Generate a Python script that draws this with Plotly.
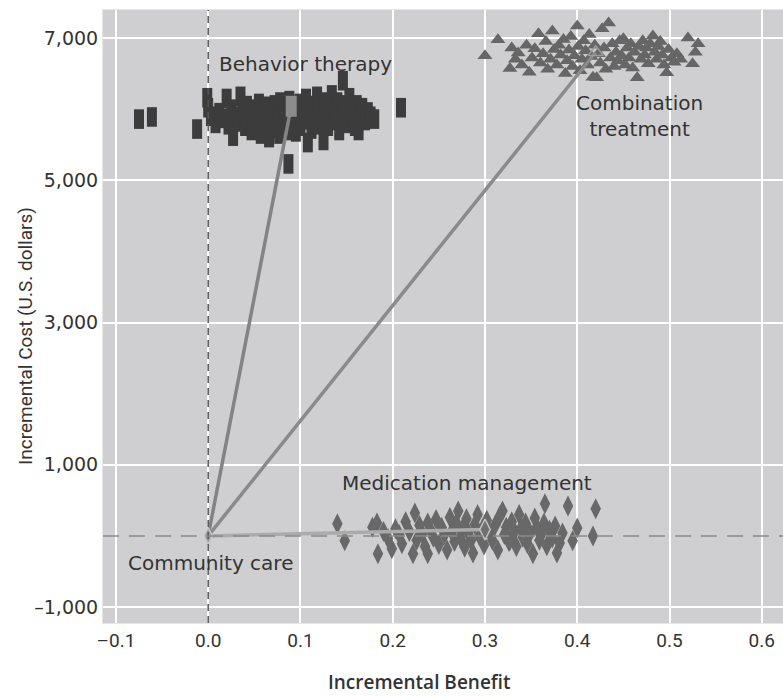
import plotly.graph_objects as go

# Behavior therapy: simulated (benefit, cost) pairs
behav_x = [-0.075, -0.061, -0.012, -0.001, 0.000, 0.003, 0.008, 0.012, 0.015, 0.020, 0.022, 0.025, 0.027,
           0.030, 0.032, 0.035, 0.037, 0.040, 0.042, 0.045, 0.047, 0.050, 0.052, 0.055, 0.057, 0.058, 0.060,
           0.062, 0.064, 0.066, 0.068, 0.070, 0.072, 0.073, 0.075, 0.077, 0.078, 0.080, 0.082, 0.083, 0.085,
           0.087, 0.088, 0.090, 0.092, 0.094, 0.095, 0.097, 0.099, 0.100, 0.102, 0.104, 0.106, 0.108, 0.110,
           0.112, 0.114, 0.116, 0.118, 0.120, 0.122, 0.125, 0.126, 0.128, 0.130, 0.132, 0.134, 0.136, 0.138,
           0.140, 0.142, 0.144, 0.146, 0.147, 0.149, 0.151, 0.153, 0.155, 0.157, 0.159, 0.161, 0.163, 0.165,
           0.167, 0.170, 0.173, 0.176, 0.180, 0.209]
behav_y = [5860, 5890, 5720, 6160, 6020, 5900, 5800, 5950, 5870, 6150, 5780, 6000, 5620,
           5900, 5820, 6180, 5960, 5760, 6050, 5880, 5700, 6000, 5820, 6080, 5650, 5930, 5780,
           6040, 5870, 5600, 5980, 5720, 6060, 5840, 5930, 5650, 6100, 5780, 5990, 5880, 5700,
           5230, 6120, 5950, 5810, 6050, 5680, 5900, 6080, 5760, 5980, 5850, 6150, 5530, 5930,
           5720, 6050, 5860, 6180, 5780, 5980, 5560, 6100, 5900, 5760, 6020, 6200, 5840, 5960,
           6100, 5700, 5900, 6400, 6060, 5800, 6000, 6160, 5880, 5950, 5760, 6060, 5700, 5900,
           6020, 5840, 5960, 5900, 5860, 6020]

# Combination treatment
combo_x = [0.300, 0.314, 0.327, 0.329, 0.333, 0.336, 0.340, 0.345, 0.348, 0.351, 0.354, 0.358, 0.360,
           0.363, 0.366, 0.368, 0.371, 0.373, 0.375, 0.378, 0.380, 0.382, 0.385, 0.387, 0.389, 0.391,
           0.393, 0.395, 0.397, 0.400, 0.401, 0.403, 0.405, 0.407, 0.409, 0.411, 0.413, 0.415, 0.417,
           0.419, 0.421, 0.423, 0.425, 0.427, 0.429, 0.431, 0.434, 0.436, 0.438, 0.440, 0.442, 0.444,
           0.446, 0.448, 0.450, 0.452, 0.454, 0.456, 0.458, 0.460, 0.462, 0.465, 0.467, 0.469, 0.471,
           0.473, 0.475, 0.477, 0.479, 0.482, 0.484, 0.486, 0.488, 0.490, 0.492, 0.494, 0.497, 0.499,
           0.502, 0.505, 0.508, 0.512, 0.520, 0.525, 0.528, 0.531]
combo_y = [6750, 6975, 6570, 6860, 6700, 6790, 6620, 6900, 6520, 6720, 6850, 7060, 6650,
           6780, 6950, 6560, 6700, 7100, 6840, 6620, 6900, 6760, 6980, 6500, 6680, 6830,
           7020, 6600, 6750, 7170, 6880, 6540, 6700, 6960, 6820, 6620, 7050, 6740, 6450,
           6900, 6440, 6780, 6650, 7130, 6860, 6560, 7210, 6720, 6920, 6600, 6800, 6680,
           6960, 6750, 6990, 6620, 6860, 6720, 6920, 6580, 6800, 6440, 6880, 6700, 6960,
           6760, 6860, 6640, 6920, 7030, 6800, 6700, 6880, 6950, 6760, 6620, 6510, 6840,
           6720, 6660, 6780, 6700, 7000, 6640, 6800, 6920]

# Medication management
med_x = [0.140, 0.148, 0.178, 0.183, 0.184, 0.190, 0.195, 0.199, 0.203, 0.207, 0.210, 0.214, 0.218,
         0.222, 0.224, 0.226, 0.229, 0.232, 0.235, 0.238, 0.238, 0.241, 0.244, 0.247, 0.250, 0.253,
         0.256, 0.259, 0.262, 0.264, 0.267, 0.269, 0.271, 0.273, 0.276, 0.278, 0.280, 0.282, 0.285,
         0.287, 0.289, 0.292, 0.294, 0.297, 0.299, 0.302, 0.305, 0.308, 0.311, 0.314, 0.316, 0.319,
         0.321, 0.323, 0.326, 0.327, 0.329, 0.332, 0.334, 0.337, 0.339, 0.341, 0.344, 0.346, 0.349,
         0.352, 0.354, 0.356, 0.359, 0.361, 0.364, 0.365, 0.367, 0.370, 0.373, 0.376, 0.378, 0.381,
         0.384, 0.390, 0.395, 0.400, 0.417, 0.420]
med_y = [170, -70, 120, 180, -250, 60, -40, -180, 100, 20, -110, 200, 60,
         -250, 320, -60, 150, 30, -150, 180, -250, 80, -20, 230, -120, 120,
         20, -200, 260, 60, -80, 180, 350, -20, 110, -160, 240, 40, -60,
         -240, 160, 300, 0, 90, -130, 220, 50, -60, 150, -200, 280, 350,
         20, 120, -80, -70, 200, 60, -150, 300, 100, -20, 180, -110, 40,
         -250, 250, 120, -60, 20, 180, 450, -140, 80, -30, 140, -240, -100,
         40, 420, -70, 110, 0, 380]

# Strategy means (community care is the reference strategy at the origin)
means = {
    "Community care": (0.0, 0.0),
    "Behavior therapy": (0.09, 6040),
    "Combination treatment": (0.42, 6800),
    "Medication management": (0.30, 90),
}

x_ticks = [-0.1, 0.0, 0.1, 0.2, 0.3, 0.4, 0.5, 0.6]
x_ticktext = ["\u20130.1", "0.0", "0.1", "0.2", "0.3", "0.4", "0.5", "0.6"]
y_ticks = [-1000, 1000, 3000, 5000, 7000]
y_ticktext = ["\u20131,000", "1,000", "3,000", "5,000", "7,000"]

fig = go.Figure()

# reference lines through the origin
fig.add_shape(type="line", xref="x", yref="paper", x0=0, x1=0, y0=0, y1=1,
              line=dict(color="#555555", width=1.5, dash="7px,5px"), layer="above")
fig.add_shape(type="line", xref="paper", yref="y", x0=0, x1=1, y0=0, y1=0,
              line=dict(color="#8a8a8a", width=1.5, dash="16px,10px"), layer="above")


def upright_block(color, height, width):
    # a vertical stroke rendered as a tall rectangular marker
    return dict(symbol="line-ns", size=height, color=color, line=dict(color=color, width=width))


fig.add_trace(go.Scatter(x=behav_x, y=behav_y, mode="markers",
                         marker=upright_block("#3c3c3c", 14, 10)))
fig.add_trace(go.Scatter(x=combo_x, y=combo_y, mode="markers",
                         marker=dict(symbol="triangle-up", size=13, color="#666666")))
fig.add_trace(go.Scatter(x=med_x, y=med_y, mode="markers",
                         marker=dict(symbol="diamond-tall", size=15, color="#686868")))

cx, cy = means["Community care"]
for name, col in [("Behavior therapy", "#838383"), ("Combination treatment", "#8a8a8a"),
                  ("Medication management", "#ababab")]:
    mx, my = means[name]
    fig.add_trace(go.Scatter(x=[cx, mx], y=[cy, my], mode="lines",
                             line=dict(color=col, width=3.5)))

bx, by = means["Behavior therapy"]
fig.add_trace(go.Scatter(x=[bx], y=[by], mode="markers",
                         marker=upright_block("#8c8c8c", 15, 11)))
tx, ty = means["Combination treatment"]
fig.add_trace(go.Scatter(x=[tx], y=[ty], mode="markers",
                         marker=dict(symbol="triangle-up-open", size=13, color="#9a9a9a",
                                     line=dict(width=1.5))))
mx, my = means["Medication management"]
fig.add_trace(go.Scatter(x=[mx], y=[my], mode="markers",
                         marker=dict(symbol="diamond-tall", size=15, color="#707070",
                                     line=dict(color="#c4c4c4", width=1.5))))
fig.add_trace(go.Scatter(x=[cx], y=[cy], mode="markers",
                         marker=dict(symbol="diamond-tall", size=12, color="#9a9a9a",
                                     line=dict(color="#c8c8c8", width=1.5))))

ann_font = dict(family="DejaVu Sans", size=20, color="#333333")
labels = [
    ("Behavior therapy", 0.105, 6640),
    ("Combination<br>treatment", 0.468, 5900),
    ("Medication management", 0.281, 745),
    ("Community care", 0.002, -380),
]
for text, ax, ay in labels:
    fig.add_annotation(x=ax, y=ay, xref="x", yref="y", text=text, showarrow=False,
                       font=ann_font, align="center", xanchor="center", yanchor="middle")

fig.add_annotation(xref="paper", yref="paper", x=0.466, y=-0.097, text="Incremental Benefit",
                   showarrow=False, xanchor="center", yanchor="middle",
                   font=dict(family="Open Sans", size=19, color="#333333", weight=600))
fig.add_annotation(xref="paper", yref="paper", x=-0.115, y=0.468, text="Incremental Cost (U.S. dollars)",
                   textangle=-90, showarrow=False, xanchor="center", yanchor="middle",
                   font=dict(family="Roboto", size=19, color="#333333"))

fig.update_layout(
    width=783, height=696,
    margin=dict(l=103, r=0, t=10, b=73),
    paper_bgcolor="white",
    plot_bgcolor="#cfcfd1",
    showlegend=False,
)
fig.update_xaxes(range=[-0.114, 0.623], tickvals=x_ticks, ticktext=x_ticktext,
                 showgrid=True, gridcolor="white", gridwidth=2, zeroline=False,
                 tickfont=dict(family="Roboto", size=19, color="#333333"),
                 showline=True, linecolor="#e6e6e6", linewidth=1, mirror=True, ticks="")
fig.update_yaxes(range=[-1225, 7394], tickvals=y_ticks, ticktext=y_ticktext,
                 showgrid=True, gridcolor="white", gridwidth=2, zeroline=False,
                 tickfont=dict(family="DejaVu Sans", size=19, color="#333333"),
                 showline=True, linecolor="#e6e6e6", linewidth=1, mirror=True, ticks="")

fig.write_html("out.html")
